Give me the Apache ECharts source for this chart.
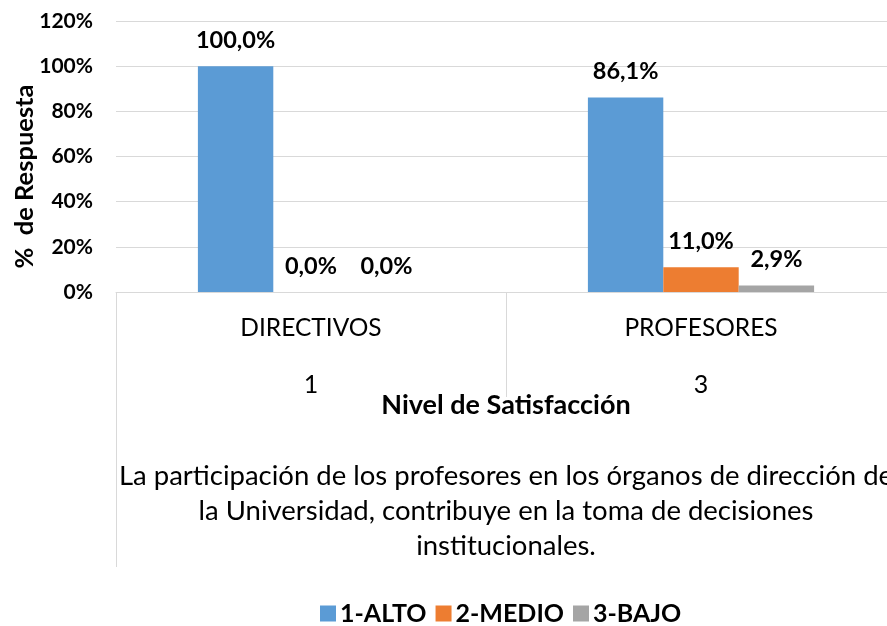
<!DOCTYPE html>
<html>
<head>
<meta charset="utf-8">
<script src="https://cdn.jsdelivr.net/npm/echarts@6/dist/echarts.min.js"></script>
<style>
  html, body { margin: 0; padding: 0; background: #fff; }
  #chart { width: 887px; height: 626px; }
</style>
</head>
<body>
<div id="chart"></div>
<script>
var categories = ['DIRECTIVOS', 'PROFESORES'];
var codes = ['1', '3'];
var question = ['La participación de los profesores en los órganos de dirección de\nla Universidad, contribuye en la toma de decisiones\ninstitucionales.'];
var series_names = ['1-ALTO', '2-MEDIO', '3-BAJO'];
var alto = [100.0, 86.1];
var medio = [0.0, 11.0];
var bajo = [0.0, 2.9];
var colors = ['#5b9bd5', '#ed7d31', '#a5a5a5'];

var font = 'Lato, Carlito, sans-serif';

function pct(p)
{
    return p.value.toFixed(1).replace('.', ',') + '%';
}

function bar(name, data, color)
{
    return {
	name: name,
	type: 'bar',
	data: data,
	barGap: 0,
	barCategoryGap: '42%',
	itemStyle: {color: color},
	label: {
	    show: true,
	    position: 'top',
	    distance: 14,
	    formatter: pct,
	    fontFamily: font,
	    fontWeight: 'bold',
	    fontSize: 23.5,
	    color: '#000'
	}
    };
}

var chart = echarts.init(document.getElementById('chart'));

chart.setOption({
    animation: false,
    textStyle: {fontFamily: font},
    grid: {left: 116, top: 21, width: 780, height: 271, outerBoundsMode: 'none', containLabel: false},
    legend: {
	data: series_names,
	left: 315,
	top: 596,
	itemWidth: 16,
	itemHeight: 16,
	itemGap: 9,
	icon: 'rect',
	textStyle: {fontFamily: font, fontWeight: 'bold', fontSize: 25, color: '#000', padding: [0, 0, 0, -1]}
    },
    xAxis: [{
	type: 'category',
	data: categories,
	axisLine: {lineStyle: {color: '#d9d9d9', width: 1}},
	axisTick: {show: true, length: 105, interval: 0, lineStyle: {color: '#d9d9d9'}},
	axisLabel: {margin: 24, fontSize: 24.5, color: '#000', fontFamily: font},
	name: 'Nivel de Satisfacción',
	nameLocation: 'middle',
	nameGap: 100,
	nameMoveOverlap: false,
	nameTextStyle: {fontSize: 27, fontWeight: 'bold', color: '#000', fontFamily: font}
    }, {
	type: 'category',
	data: codes,
	position: 'bottom',
	axisLine: {show: false},
	axisTick: {show: false},
	axisLabel: {margin: 80, fontSize: 25, color: '#000', fontFamily: font}
    }, {
	type: 'category',
	data: question,
	position: 'bottom',
	axisLine: {show: false},
	axisTick: {show: true, length: 275, interval: 0, lineStyle: {color: '#d9d9d9'}},
	axisLabel: {margin: 167, fontSize: 27.5, lineHeight: 35, color: '#000', fontFamily: font, align: 'center'}
    }],
    yAxis: {
	type: 'value',
	min: 0,
	max: 120,
	interval: 20,
	axisLine: {show: false},
	axisTick: {show: false},
	splitLine: {lineStyle: {color: '#d9d9d9'}},
	axisLabel: {formatter: '{value}%', margin: 23, fontSize: 21, fontWeight: 'bold', color: '#000', fontFamily: font},
	name: '%  de Respuesta',
	nameLocation: 'middle',
	nameGap: 78,
	nameMoveOverlap: false,
	nameTextStyle: {fontSize: 25.5, fontWeight: 'bold', color: '#000', fontFamily: font, padding: [0, 40, 0, 0]}
    },
    series: [
	bar(series_names[0], alto, colors[0]),
	bar(series_names[1], medio, colors[1]),
	bar(series_names[2], bajo, colors[2])
    ]
});
</script>
</body>
</html>
